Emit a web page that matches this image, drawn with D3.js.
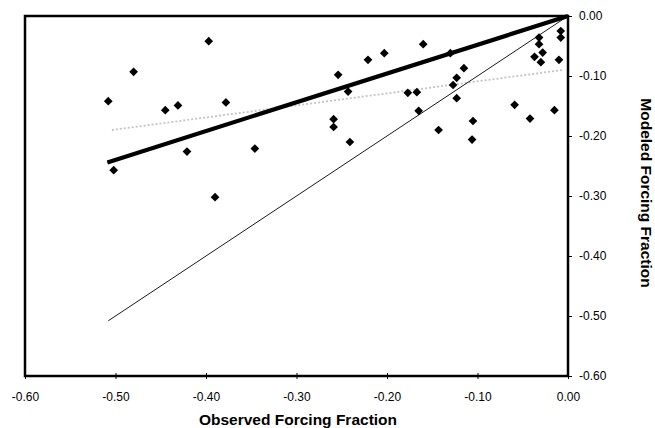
<!DOCTYPE html>
<html>
<head>
<meta charset="utf-8">
<script src="https://cdn.jsdelivr.net/npm/d3@7"></script>
<style>
  body { margin: 0; background: #fff; }
  text { font-family: "Liberation Sans", Arial, Helvetica, sans-serif; fill: #000; }
</style>
</head>
<body>
<div id="chart"></div>
<script>
// observed vs modeled forcing fraction
const observed = [-0.508, -0.480, -0.445, -0.431, -0.397, -0.378, -0.421, -0.346, -0.502, -0.390,
  -0.254, -0.221, -0.203, -0.160, -0.243, -0.259, -0.259, -0.241, -0.177, -0.167,
  -0.165, -0.143, -0.123, -0.127, -0.115, -0.123, -0.105, -0.106, -0.130, -0.059,
  -0.042, -0.015, -0.032, -0.032, -0.037, -0.028, -0.030, -0.008, -0.008, -0.010];
const modeled = [-0.142, -0.093, -0.157, -0.149, -0.042, -0.144, -0.226, -0.221, -0.257, -0.302,
  -0.098, -0.073, -0.062, -0.047, -0.126, -0.172, -0.185, -0.210, -0.128, -0.127,
  -0.158, -0.190, -0.103, -0.115, -0.087, -0.137, -0.175, -0.206, -0.062, -0.148,
  -0.171, -0.157, -0.036, -0.047, -0.068, -0.061, -0.077, -0.025, -0.036, -0.073];

// fitted / reference lines (endpoints)
const fitLine = [[-0.509, -0.244], [0, 0]];
const oneToOne = [[-0.508, -0.508], [0, 0]];
const grayLine = [[-0.504, -0.190], [-0.006, -0.090]];

const xTicks = [-0.6, -0.5, -0.4, -0.3, -0.2, -0.1, 0];
const yTicks = [-0.6, -0.5, -0.4, -0.3, -0.2, -0.1, 0];

(() => {
  const width = 655, height = 428;
  const m = { left: 25, right: 568, top: 16, bottom: 376 };
  const fmt = d => d3.format(".2f")(d).replace("\u2212", "-");

  const svg = d3.select("#chart").append("svg")
    .attr("width", width)
    .attr("height", height);

  const x = d3.scaleLinear().domain([-0.6, 0]).range([m.left, m.right]);
  const y = d3.scaleLinear().domain([-0.6, 0]).range([m.bottom, m.top]);

  const line = d3.line().x(d => x(d[0])).y(d => y(d[1]));

  // lines
  svg.append("path").datum(grayLine)
    .attr("d", line)
    .attr("fill", "none")
    .attr("stroke", "#c4c4c4")
    .attr("stroke-width", 1.8)
    .attr("stroke-dasharray", "2,2");

  svg.append("path").datum(oneToOne)
    .attr("d", line)
    .attr("fill", "none")
    .attr("stroke", "#000")
    .attr("stroke-width", 0.9);

  svg.append("path").datum(fitLine)
    .attr("d", line)
    .attr("fill", "none")
    .attr("stroke", "#000")
    .attr("stroke-width", 4.2);

  // points
  const pts = observed.map((v, i) => [v, modeled[i]]);
  svg.selectAll(".pt")
    .data(pts)
    .enter()
    .append("path")
    .attr("class", "pt")
    .attr("d", d3.symbol(d3.symbolSquare, 38))
    .attr("transform", d => `translate(${x(d[0])},${y(d[1])}) rotate(45)`)
    .attr("fill", "#000");

  // frame
  svg.append("rect")
    .attr("x", m.left)
    .attr("y", m.top)
    .attr("width", m.right - m.left)
    .attr("height", m.bottom - m.top)
    .attr("fill", "none")
    .attr("stroke", "#000")
    .attr("stroke-width", 2.5);

  // bottom axis
  const xAxis = svg.append("g")
    .attr("transform", `translate(0,${m.bottom})`)
    .call(d3.axisBottom(x).tickValues(xTicks).tickSize(3).tickFormat(fmt));
  xAxis.select(".domain").remove();
  xAxis.selectAll("line").attr("y1", -3).attr("y2", 3).attr("stroke", "#000");
  xAxis.selectAll("text")
    .attr("y", 16)
    .style("font-size", "12px");

  // right axis
  const yAxis = svg.append("g")
    .attr("transform", `translate(${m.right},0)`)
    .call(d3.axisRight(y).tickValues(yTicks).tickSize(4).tickFormat(fmt));
  yAxis.select(".domain").remove();
  yAxis.selectAll("line").attr("x1", -1).attr("stroke", "#000");
  yAxis.selectAll("text")
    .attr("x", 11)
    .attr("text-anchor", "start")
    .style("font-size", "12px");

  // axis titles
  svg.append("text")
    .attr("x", 298)
    .attr("y", 425)
    .attr("text-anchor", "middle")
    .style("font-size", "15.5px")
    .style("font-weight", "bold")
    .text("Observed Forcing Fraction");

  svg.append("text")
    .attr("transform", "translate(641,193) rotate(90)")
    .attr("text-anchor", "middle")
    .style("font-size", "15.5px")
    .style("font-weight", "bold")
    .text("Modeled Forcing Fraction");
})();
</script>
</body>
</html>
